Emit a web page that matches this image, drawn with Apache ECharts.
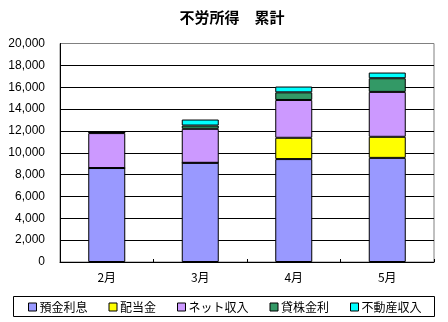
<!DOCTYPE html>
<html><head><meta charset="utf-8">
<script src="https://cdn.jsdelivr.net/npm/echarts@6/dist/echarts.min.js"></script>
<style>html,body{margin:0;padding:0;background:#fff}#c{width:448px;height:322px}</style>
</head><body><div id="c"></div>
<script>
const categories = ['2月', '3月', '4月', '5月'];
const seriesNames = ['預金利息', '配当金', 'ネット収入', '貸株金利', '不動産収入'];
const yokin = [8600, 9080, 9420, 9530];
const haitou = [0, 0, 1950, 1930];
const net = [3200, 3110, 3460, 4110];
const kashikabu = [100, 300, 700, 1250];
const fudousan = [0, 550, 530, 520];
const colors = ['#9999FF', '#FFFF00', '#CC99FF', '#339966', '#00FFFF'];
const dataSets = [yokin, haitou, net, kashikabu, fudousan];

const font = "'Liberation Sans','Noto Sans CJK JP',sans-serif";
const chart = echarts.init(document.getElementById('c'), null, {renderer: 'canvas'});
const gridLineColors = ['#000','#000','#000','#000','#000','#000','#000','#000','#000','#000','#808080'];
chart.setOption({
  animation: false,
  backgroundColor: '#fff',
  title: {
    text: '不労所得　累計', left: 227, top: 5, textAlign: 'center',
    textStyle: {fontSize: 15, fontWeight: 'bold', color: '#000', fontFamily: "'Noto Sans CJK JP',sans-serif"}
  },
  legend: {
    left: 23, top: 296, itemWidth: 8, itemHeight: 8, itemGap: 21, icon: 'rect',
    data: seriesNames,
    textStyle: {fontSize: 12, color: '#000', fontFamily: "'Noto Sans CJK JP',sans-serif", padding: [0,0,0,-2]},
    itemStyle: {borderColor: '#000', borderWidth: 1}
  },
  graphic: [{type: 'rect', shape: {x: 13.5, y: 296.5, width: 421, height: 20}, style: {fill: 'none', stroke: '#000', lineWidth: 1}, silent: true}],
  grid: {left: 60, top: 43.5, right: 14, bottom: 60, show: true, borderColor: '#808080', borderWidth: 1},
  xAxis: {
    type: 'category', data: categories,
    axisLine: {lineStyle: {color: '#000', width: 1}},
    axisTick: {show: true, inside: true, length: 3, lineStyle: {color: '#000'}},
    axisLabel: {fontSize: 12, color: '#000', margin: 9, fontFamily: "'Noto Sans CJK JP',sans-serif"}
  },
  yAxis: {
    type: 'value', min: 0, max: 20000, interval: 2000,
    axisLine: {show: true, lineStyle: {color: '#000', width: 1}},
    axisTick: {show: false},
    splitLine: {lineStyle: {color: gridLineColors, width: 1}},
    axisLabel: {fontSize: 12, color: '#000', margin: 15, fontFamily: font,
      formatter: v => v.toLocaleString('en-US')}
  },
  series: seriesNames.map((n, i) => ({
    name: n, type: 'bar', stack: 'total', data: dataSets[i], barWidth: 37,
    itemStyle: {color: colors[i], borderColor: '#000', borderWidth: 1}
  }))
});
</script></body></html>
